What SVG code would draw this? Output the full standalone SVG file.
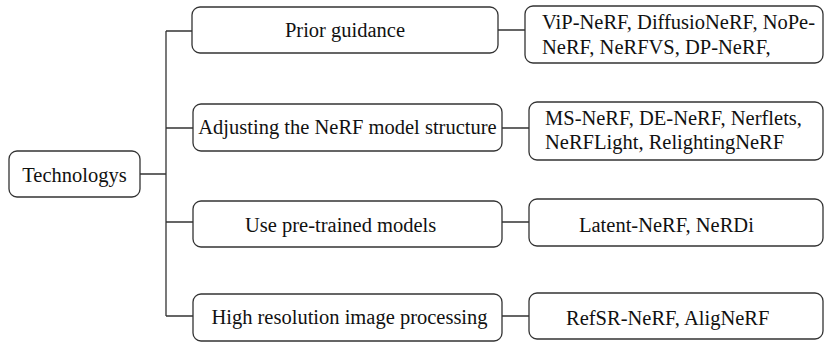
<svg xmlns="http://www.w3.org/2000/svg" width="825" height="344" viewBox="0 0 825 344" font-family="'Liberation Serif', 'Times New Roman', Times, serif">
<style>
.box{fill:#fff;stroke:#333;stroke-width:1.3}
.ln{fill:none;stroke:#333;stroke-width:1.3}
text{font-family:'Liberation Serif','Times New Roman',Times,serif;font-size:20.5px;fill:#111}
.c{text-anchor:middle}
</style>
<rect width="825" height="344" fill="#fff"/>
<g id="connectors">
<path class="ln" d="M140,174H166M166,31V316M166,31H192M166,128H193M166,222H193M166,316H193"/>
<path class="ln" d="M498,30H525M502,128H529M502,222H529M502,316H529"/>
</g>
<g id="technologys"><rect class="box" x="9" y="151" width="131" height="46" rx="8"/><text class="c" x="74.5" y="181.5">Technologys</text></g>
<g id="prior"><rect class="box" x="192" y="7" width="306" height="46" rx="8"/><text class="c" x="345" y="37">Prior guidance</text></g>
<g id="adjusting"><rect class="box" x="193" y="104" width="309" height="47" rx="8"/><text class="c" x="347.5" y="134">Adjusting the NeRF model structure</text></g>
<g id="pretrained"><rect class="box" x="193" y="201" width="309" height="46" rx="8"/><text x="245" y="231.5">Use pre-trained models</text></g>
<g id="highres"><rect class="box" x="193" y="294" width="309" height="47" rx="8"/><text class="c" x="349.5" y="323.5">High resolution image processing</text></g>
<g id="prior-list"><rect class="box" x="525" y="6" width="298" height="57" rx="8"/><text x="542" y="29">ViP-NeRF, DiffusioNeRF, NoPe-</text><text x="542" y="54">NeRF, NeRFVS, DP-NeRF,</text></g>
<g id="adjusting-list"><rect class="box" x="529" y="102" width="294" height="58" rx="8"/><text x="545" y="125">MS-NeRF, DE-NeRF, Nerflets,</text><text x="545" y="149">NeRFLight, RelightingNeRF</text></g>
<g id="pretrained-list"><rect class="box" x="529" y="199" width="294" height="47" rx="8"/><text x="579" y="231.5">Latent-NeRF, NeRDi</text></g>
<g id="highres-list"><rect class="box" x="529" y="293" width="294" height="46" rx="8"/><text x="566" y="325">RefSR-NeRF, AligNeRF</text></g>
</svg>
